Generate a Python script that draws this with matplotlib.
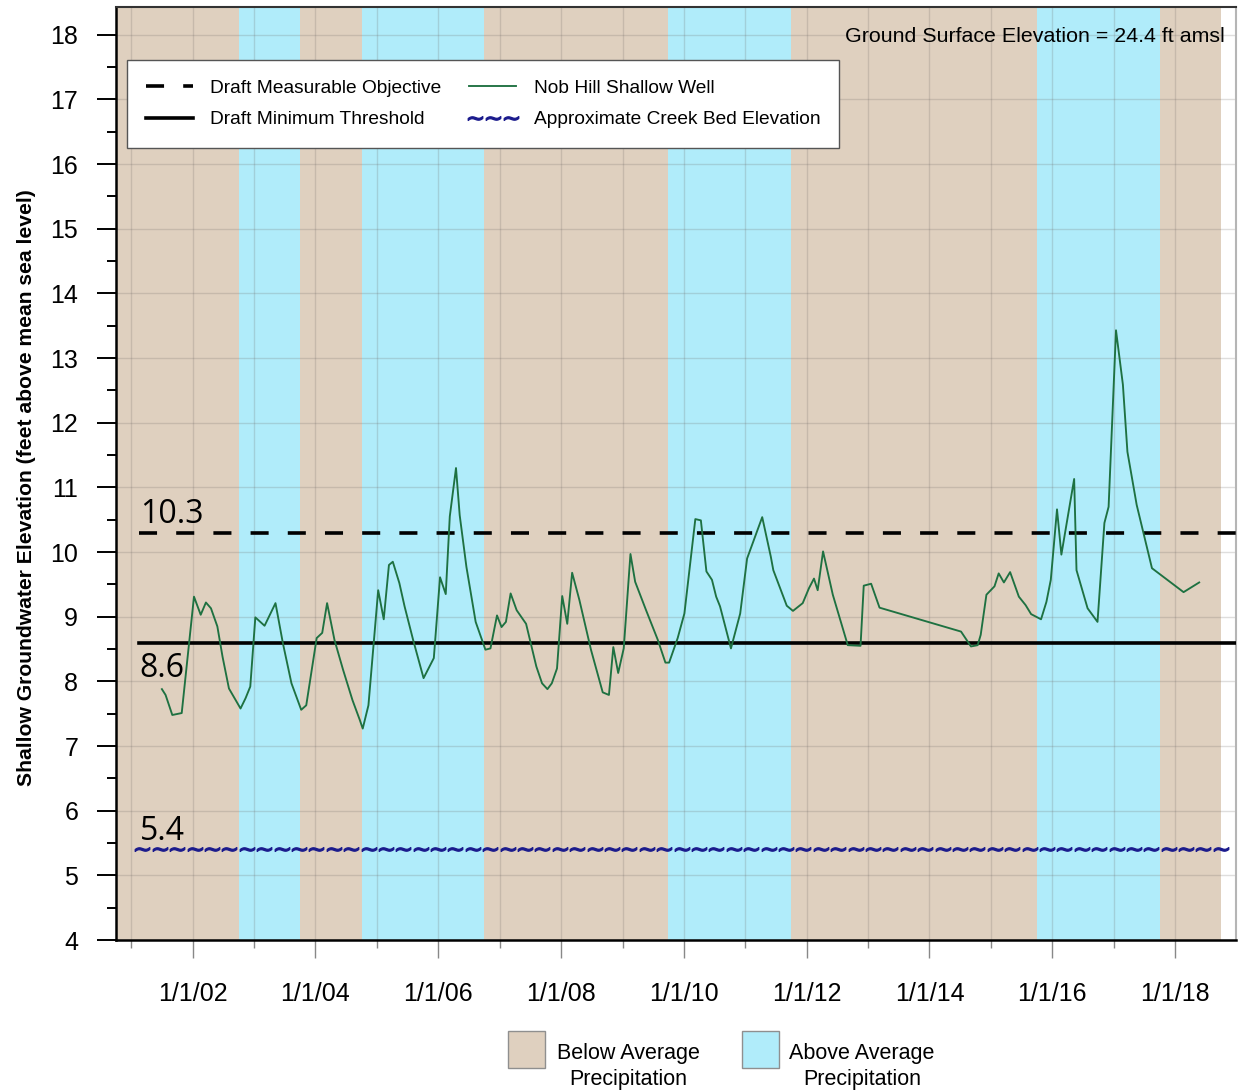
import numpy as np
import pandas as pd
import matplotlib
matplotlib.use("Agg")
import matplotlib.pyplot as plt
import matplotlib.dates as mdates
from matplotlib.patches import Rectangle
from matplotlib.legend_handler import HandlerLine2D
from matplotlib.ticker import MultipleLocator, FuncFormatter

# ---------------------------------------------------------------- data
# Water-year precipitation classification (water year N runs Oct 1, N-1 to Sep 30, N)
water_years = list(range(2001, 2019))
precip_class = ["below", "below", "above", "below", "above", "above",
                "below", "below", "below", "above", "above", "below",
                "below", "below", "below", "above", "above", "below"]

measurable_objective = 10.3
minimum_threshold = 8.6
creek_bed_elevation = 5.4
ground_surface_elevation = 24.4

well_dates = [
    "2001-07-01", "2001-07-23", "2001-09-01", "2001-10-27", "2002-01-08",
    "2002-02-17", "2002-03-20", "2002-04-19", "2002-05-27", "2002-06-27",
    "2002-08-04", "2002-09-02", "2002-10-12", "2002-11-11", "2002-12-09",
    "2003-01-08", "2003-03-04", "2003-05-08", "2003-06-21", "2003-08-11",
    "2003-10-08", "2003-11-07", "2004-01-08", "2004-02-10", "2004-03-10",
    "2004-04-23", "2004-06-13", "2004-08-08", "2004-09-21", "2004-10-08",
    "2004-11-11", "2005-01-08", "2005-02-10", "2005-03-13", "2005-04-05",
    "2005-05-14", "2005-06-14", "2005-08-04", "2005-10-05", "2005-12-05",
    "2006-01-11", "2006-02-14", "2006-03-10", "2006-04-16", "2006-05-08",
    "2006-06-17", "2006-08-11", "2006-10-08", "2006-11-07", "2006-12-16",
    "2007-01-12", "2007-02-07", "2007-03-07", "2007-04-12", "2007-06-07",
    "2007-08-07", "2007-09-10", "2007-10-12", "2007-11-07", "2007-12-08",
    "2008-01-08", "2008-02-07", "2008-03-07", "2008-04-19", "2008-06-27",
    "2008-09-05", "2008-10-12", "2008-11-07", "2008-12-06", "2009-01-08",
    "2009-02-17", "2009-03-17", "2009-05-21", "2009-07-30", "2009-09-13",
    "2009-10-05", "2009-11-25", "2010-01-04", "2010-03-10", "2010-04-12",
    "2010-05-15", "2010-06-17", "2010-07-12", "2010-08-04", "2010-10-08",
    "2010-12-02", "2011-01-12", "2011-04-12", "2011-06-02", "2011-06-17",
    "2011-09-05", "2011-10-12", "2011-12-09", "2012-01-15", "2012-02-14",
    "2012-03-07", "2012-04-08", "2012-06-05", "2012-09-02", "2012-11-17",
    "2012-12-06", "2013-01-19", "2013-03-10", "2014-07-08", "2014-09-05",
    "2014-10-15", "2014-11-02", "2014-12-06", "2015-01-23", "2015-02-17",
    "2015-03-20", "2015-04-26", "2015-06-17", "2015-07-27", "2015-08-29",
    "2015-10-27", "2015-11-28", "2015-12-24", "2016-01-30", "2016-02-25",
    "2016-05-11", "2016-05-25", "2016-07-30", "2016-09-27", "2016-11-07",
    "2016-12-02", "2017-01-15", "2017-02-25", "2017-03-24", "2017-05-18",
    "2017-08-17", "2018-02-21", "2018-05-25",
]
well_levels = [
    7.88, 7.79, 7.48, 7.51, 9.31,
    9.03, 9.22, 9.13, 8.85, 8.38,
    7.89, 7.76, 7.58, 7.74, 7.92,
    8.99, 8.86, 9.21, 8.59, 7.97,
    7.56, 7.63, 8.67, 8.75, 9.21,
    8.64, 8.18, 7.71, 7.40, 7.27,
    7.63, 9.41, 8.96, 9.80, 9.85,
    9.52, 9.16, 8.64, 8.05, 8.36,
    9.61, 9.35, 10.55, 11.30, 10.57,
    9.77, 8.92, 8.49, 8.51, 9.02,
    8.84, 8.92, 9.36, 9.10, 8.89,
    8.23, 7.97, 7.88, 7.97, 8.20,
    9.32, 8.89, 9.68, 9.26, 8.49,
    7.83, 7.79, 8.53, 8.13, 8.51,
    9.97, 9.54, 9.10, 8.64, 8.29,
    8.29, 8.67, 9.05, 10.51, 10.49,
    9.70, 9.57, 9.31, 9.16, 8.51,
    9.05, 9.90, 10.54, 9.93, 9.72,
    9.17, 9.09, 9.21, 9.44, 9.59,
    9.41, 10.01, 9.34, 8.56, 8.55,
    9.48, 9.51, 9.14, 8.77, 8.54,
    8.56, 8.72, 9.34, 9.47, 9.67,
    9.53, 9.69, 9.31, 9.18, 9.04,
    8.96, 9.23, 9.57, 10.66, 9.96,
    11.13, 9.72, 9.13, 8.92, 10.45,
    10.70, 13.43, 12.59, 11.55, 10.73,
    9.75, 9.38, 9.53,
]

# ---------------------------------------------------------------- styling
plt.rcParams["font.family"] = ["Liberation Sans", "DejaVu Sans"]

TAN = "#DFD0BF"
SKY = "#B0ECFA"
GREEN = "#1E7141"
NAVY = "#1A1A8C"
band_colors = {"below": TAN, "above": SKY}

W, H = 1243, 1091
fig = plt.figure(figsize=(W / 100, H / 100), dpi=100)
ax = fig.add_axes([116 / W, (H - 940) / H, 1120 / W, 933 / H])

x_start = pd.Timestamp("2000-10-01")
x_end = pd.Timestamp("2018-12-30")
line_start = pd.Timestamp("2001-02-15")

# precipitation background bands, merging consecutive years of the same class
i = 0
n = len(water_years)
while i < n:
    j = i
    while j + 1 < n and precip_class[j + 1] == precip_class[i]:
        j += 1
    ax.axvspan(pd.Timestamp(f"{water_years[i] - 1}-10-01"),
               pd.Timestamp(f"{water_years[j]}-10-01"),
               facecolor=band_colors[precip_class[i]], lw=0, zorder=0)
    i = j + 1

# threshold lines
lw_thr = 2.6
mo_line, = ax.plot([line_start, x_end], [measurable_objective] * 2, color="black",
                   lw=lw_thr, dashes=(5.0, 5.3), solid_capstyle="butt",
                   dash_capstyle="butt", zorder=3, label="Draft Measurable Objective")
mt_line, = ax.plot([line_start, x_end], [minimum_threshold] * 2, color="black",
                   lw=lw_thr, zorder=3, label="Draft Minimum Threshold")

# creek bed elevation drawn as a row of tildes
tilde_x = np.arange(mdates.date2num(line_start) + 20, mdates.date2num(x_end), 103.5)
creek_line, = ax.plot(tilde_x, np.full(len(tilde_x), creek_bed_elevation),
                      ls="none", marker=r"$\sim$", ms=10.5, color=NAVY, mec=NAVY,
                      mew=0.9, zorder=3, label="Approximate Creek Bed Elevation")

# well hydrograph
well_line, = ax.plot(pd.to_datetime(well_dates), well_levels, color=GREEN, lw=1.35,
                     zorder=4, label="Nob Hill Shallow Well")

# value labels for the reference lines
lbl_kw = dict(textcoords="offset points", ha="left", va="baseline",
              fontsize=23, family=["Open Sans", "DejaVu Sans"], color="black", zorder=5)
ax.annotate(f"{measurable_objective}", xy=(line_start, measurable_objective),
            xytext=(1, 7), **lbl_kw)
ax.annotate(f"{minimum_threshold}", xy=(line_start, minimum_threshold),
            xytext=(0, -25), **lbl_kw)
ax.annotate(f"{creek_bed_elevation}", xy=(line_start, creek_bed_elevation),
            xytext=(1, 7), **lbl_kw)

# axes limits and ticks
ax.set_xlim(x_start, x_end)
ax.set_ylim(4, 18.43)
ax.xaxis.set_major_locator(mdates.YearLocator(base=2, month=1, day=1))
ax.xaxis.set_minor_locator(mdates.YearLocator(base=1, month=1, day=1))
ax.xaxis.set_major_formatter(
    FuncFormatter(lambda v, p: "1/1/{:02d}".format(mdates.num2date(v).year % 100)))
ax.yaxis.set_major_locator(MultipleLocator(1))
ax.yaxis.set_minor_locator(MultipleLocator(0.5))

ax.tick_params(axis="x", which="major", length=13, width=1, color="#888888",
               pad=17, labelsize=18)
ax.tick_params(axis="x", which="minor", length=5.8, width=1, color="#888888")
ax.tick_params(axis="y", which="major", length=13.7, width=1.4, color="black",
               pad=13.5, labelsize=18)
ax.tick_params(axis="y", which="minor", length=6.5, width=1.4, color="black")

ax.set_axisbelow(True)
ax.grid(which="both", axis="x", color="#6f6a66", alpha=0.22, lw=1)
ax.grid(which="major", axis="y", color="#6f6a66", alpha=0.22, lw=1)

ax.spines["left"].set_linewidth(1.8)
ax.spines["bottom"].set_linewidth(1.8)
ax.spines["left"].set_color("black")
ax.spines["bottom"].set_color("black")
ax.spines["top"].set_color("#333333")
ax.spines["top"].set_linewidth(1.5)
ax.spines["right"].set_color("#b5b5b5")
ax.spines["right"].set_linewidth(1.5)

# y label
fig.text(27 / W, 1 - 487.5 / H,
         "Shallow Groundwater Elevation (feet above mean sea level)",
         rotation=90, ha="center", va="center", fontsize=15.2, fontweight="bold")

# ground surface note
ax.text(0.990, 0.968, f"Ground Surface Elevation = {ground_surface_elevation} ft amsl",
        transform=ax.transAxes, ha="right", va="center", fontsize=15.4, zorder=5)

# line legend (tilde entry shows three marks, the others a plain line sample)
leg = ax.legend(handles=[mo_line, mt_line, well_line, creek_line], ncol=2,
                loc="upper left", bbox_to_anchor=(0.0098, 0.9432), borderaxespad=0,
                fontsize=13.8, handlelength=2.45, handletextpad=0.9, columnspacing=1.45,
                labelspacing=0.75, borderpad=1.0, numpoints=1, fancybox=False,
                framealpha=1, edgecolor="#555555",
                handler_map={creek_line: HandlerLine2D(numpoints=3)})
leg.get_frame().set_linewidth(1.0)
leg.set_zorder(6)

# precipitation legend below the axes
for left, color in [(508, TAN), (742, SKY)]:
    fig.add_artist(Rectangle((left / W, 1 - 1068 / H), 37 / W, 37 / H,
                             transform=fig.transFigure, facecolor=color,
                             edgecolor="#8f8f8f", lw=1))
for txt_cx, word in [(628, "Below Average"), (862, "Above Average")]:
    fig.text(txt_cx / W, 1 - 1059 / H, word, ha="center", va="baseline",
             fontsize=15.5)
    fig.text(txt_cx / W, 1 - 1085 / H, "Precipitation", ha="center", va="baseline",
             fontsize=15.5)

fig.savefig("out.png", dpi=100)
